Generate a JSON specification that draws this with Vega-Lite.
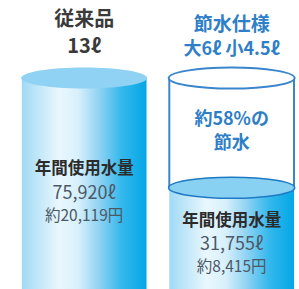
{
  "$schema": "https://vega.github.io/schema/vega-lite/v6.json",
  "width": 299,
  "height": 289,
  "autosize": {"type": "fit", "contains": "padding"},
  "padding": 0,
  "background": "white",
  "config": {"view": {"stroke": null}},
  "data": {"values": [
    {"cat": "従来品", "title": "従来品", "spec": "13ℓ", "level": 100, "water": 100, "usage": "年間使用水量", "liters": "75,920ℓ", "cost": "約20,119円", "saving": "", "saving2": ""},
    {"cat": "節水仕様", "title": "節水仕様", "spec": "大6ℓ 小4.5ℓ", "level": 100, "water": 48, "usage": "年間使用水量", "liters": "31,755ℓ", "cost": "約8,415円", "saving": "約58%の", "saving2": "節水"}
  ]},
  "encoding": {
    "x": {"field": "cat", "type": "nominal", "axis": null, "sort": null,
      "scale": {"type": "band", "domain": ["従来品", "節水仕様"], "paddingInner": 0.1544, "paddingOuter": 0.0806, "align": 0.9167}}
  },
  "layer": [
    {
      "mark": {"type": "bar", "color": {"gradient": "linear", "x1": 0, "x2": 1, "y1": 0, "y2": 0, "stops": [
        {"offset": 0, "color": "#9fd9f5"}, {"offset": 0.08, "color": "#b4e2f7"}, {"offset": 0.3, "color": "#e9f7fd"},
        {"offset": 0.45, "color": "#d8f0fb"}, {"offset": 0.62, "color": "#8fd3f3"}, {"offset": 0.8, "color": "#34b8ec"}, {"offset": 1, "color": "#03a7e6"}]}},
      "encoding": {
        "y": {"field": "water", "type": "quantitative", "axis": null, "scale": {"domain": [0, 137], "nice": false, "zero": false}},
        "y2": {"datum": 0}
      }
    },
    {
      "transform": [{"filter": "datum.cat === '節水仕様'"}],
      "mark": {"type": "rule", "stroke": "#3a86cc", "strokeWidth": 2},
      "encoding": {
        "x": {"field": "cat", "type": "nominal", "bandPosition": 0, "axis": null, "sort": null,
          "scale": {"type": "band", "domain": ["従来品", "節水仕様"], "paddingInner": 0.1544, "paddingOuter": 0.0806, "align": 0.9167}},
        "y": {"field": "level", "type": "quantitative", "axis": null, "scale": {"domain": [0, 137], "nice": false, "zero": false}},
        "y2": {"field": "water"}
      }
    },
    {
      "transform": [{"filter": "datum.cat === '節水仕様'"}],
      "mark": {"type": "rule", "stroke": "#3a86cc", "strokeWidth": 2},
      "encoding": {
        "x": {"field": "cat", "type": "nominal", "bandPosition": 1, "axis": null, "sort": null,
          "scale": {"type": "band", "domain": ["従来品", "節水仕様"], "paddingInner": 0.1544, "paddingOuter": 0.0806, "align": 0.9167}},
        "y": {"field": "level", "type": "quantitative", "axis": null, "scale": {"domain": [0, 137], "nice": false, "zero": false}},
        "y2": {"field": "water"}
      }
    },
    {
      "transform": [{"filter": "datum.cat === '従来品'"}],
      "mark": {"type": "point", "shape": "M-1,0C-1,-0.0922,-0.5523,-0.167,0,-0.167C0.5523,-0.167,1,-0.0922,1,0C1,0.0922,0.5523,0.167,0,0.167C-0.5523,0.167,-1,0.0922,-1,0Z", "size": 15876, "filled": true, "fill": "#8fd2f3", "strokeWidth": 0, "opacity": 1},
      "encoding": {
        "y": {"field": "level", "type": "quantitative", "axis": null, "scale": {"domain": [0, 137], "nice": false, "zero": false}}
      }
    },
    {
      "transform": [{"filter": "datum.cat === '節水仕様'"}],
      "mark": {"type": "point", "shape": "M-1,0C-1,-0.0922,-0.5523,-0.167,0,-0.167C0.5523,-0.167,1,-0.0922,1,0C1,0.0922,0.5523,0.167,0,0.167C-0.5523,0.167,-1,0.0922,-1,0Z", "size": 15876, "fill": "#ffffff", "stroke": "#3a86cc", "strokeWidth": 2, "opacity": 1, "fillOpacity": 1, "strokeOpacity": 1},
      "encoding": {
        "y": {"field": "level", "type": "quantitative", "axis": null, "scale": {"domain": [0, 137], "nice": false, "zero": false}}
      }
    },
    {
      "transform": [{"filter": "datum.cat === '節水仕様'"}],
      "mark": {"type": "point", "shape": "M-1,0C-1,-0.0922,-0.5523,-0.167,0,-0.167C0.5523,-0.167,1,-0.0922,1,0C1,0.0922,0.5523,0.167,0,0.167C-0.5523,0.167,-1,0.0922,-1,0Z", "size": 15876, "fill": "#88d1f2", "stroke": "#1f7ac4", "strokeWidth": 1.6, "opacity": 1, "fillOpacity": 1, "strokeOpacity": 1},
      "encoding": {
        "y": {"field": "water", "type": "quantitative", "axis": null, "scale": {"domain": [0, 137], "nice": false, "zero": false}}
      }
    },
    {
      "transform": [{"filter": "datum.cat === '従来品'"}],
      "mark": {"type": "text", "font": "Noto Sans CJK JP", "fontWeight": "bold", "fontSize": 20, "fill": "#3a3a3a", "baseline": "middle", "align": "center"},
      "encoding": {"text": {"field": "title"}, "y": {"datum": 127.5, "type": "quantitative", "axis": null, "scale": {"domain": [0, 137], "nice": false, "zero": false}}}
    },
    {
      "transform": [{"filter": "datum.cat === '従来品'"}],
      "mark": {"type": "text", "font": "Noto Sans CJK JP", "fontWeight": "bold", "fontSize": 20, "fill": "#3a3a3a", "baseline": "middle", "align": "center"},
      "encoding": {"text": {"field": "spec"}, "y": {"datum": 114.6, "type": "quantitative", "axis": null, "scale": {"domain": [0, 137], "nice": false, "zero": false}}}
    },
    {
      "transform": [{"filter": "datum.cat === '節水仕様'"}],
      "mark": {"type": "text", "font": "Noto Sans CJK JP", "fontWeight": "bold", "fontSize": 19, "fill": "#2f7fc8", "baseline": "middle", "align": "center"},
      "encoding": {"text": {"field": "title"}, "y": {"datum": 125.1, "type": "quantitative", "axis": null, "scale": {"domain": [0, 137], "nice": false, "zero": false}}}
    },
    {
      "transform": [{"filter": "datum.cat === '節水仕様'"}],
      "mark": {"type": "text", "font": "Noto Sans CJK JP", "fontWeight": "bold", "fontSize": 18, "fill": "#2f7fc8", "baseline": "middle", "align": "center"},
      "encoding": {"text": {"field": "spec"}, "y": {"datum": 113.1, "type": "quantitative", "axis": null, "scale": {"domain": [0, 137], "nice": false, "zero": false}}}
    },
    {
      "transform": [{"filter": "datum.cat === '節水仕様'"}],
      "mark": {"type": "text", "font": "Noto Sans CJK JP", "fontWeight": "bold", "fontSize": 18, "fill": "#2f7fc8", "baseline": "middle", "align": "center"},
      "encoding": {"text": {"field": "saving"}, "y": {"datum": 79.88, "type": "quantitative", "axis": null, "scale": {"domain": [0, 137], "nice": false, "zero": false}}}
    },
    {
      "transform": [{"filter": "datum.cat === '節水仕様'"}],
      "mark": {"type": "text", "font": "Noto Sans CJK JP", "fontWeight": "bold", "fontSize": 18, "fill": "#2f7fc8", "baseline": "middle", "align": "center"},
      "encoding": {"text": {"field": "saving2"}, "y": {"datum": 68.74, "type": "quantitative", "axis": null, "scale": {"domain": [0, 137], "nice": false, "zero": false}}}
    },
    {
      "transform": [{"filter": "datum.cat === '従来品'"}],
      "mark": {"type": "text", "font": "Noto Sans CJK JP", "fontWeight": "bold", "fontSize": 16.5, "fill": "#2b2b2b", "baseline": "middle", "align": "center"},
      "encoding": {"text": {"field": "usage"}, "y": {"datum": 56.65, "type": "quantitative", "axis": null, "scale": {"domain": [0, 137], "nice": false, "zero": false}}}
    },
    {
      "transform": [{"filter": "datum.cat === '従来品'"}],
      "mark": {"type": "text", "font": "Noto Sans CJK JP", "fontSize": 18, "fill": "#4b5866", "baseline": "middle", "align": "center"},
      "encoding": {"text": {"field": "liters"}, "y": {"datum": 45.03, "type": "quantitative", "axis": null, "scale": {"domain": [0, 137], "nice": false, "zero": false}}}
    },
    {
      "transform": [{"filter": "datum.cat === '従来品'"}],
      "mark": {"type": "text", "font": "Noto Sans CJK JP", "fontSize": 15.5, "fill": "#4b5866", "baseline": "middle", "align": "center"},
      "encoding": {"text": {"field": "cost"}, "y": {"datum": 34.61, "type": "quantitative", "axis": null, "scale": {"domain": [0, 137], "nice": false, "zero": false}}}
    },
    {
      "transform": [{"filter": "datum.cat === '節水仕様'"}],
      "mark": {"type": "text", "font": "Noto Sans CJK JP", "fontWeight": "bold", "fontSize": 16.5, "fill": "#2b2b2b", "baseline": "middle", "align": "center"},
      "encoding": {"text": {"field": "usage"}, "y": {"datum": 32.24, "type": "quantitative", "axis": null, "scale": {"domain": [0, 137], "nice": false, "zero": false}}}
    },
    {
      "transform": [{"filter": "datum.cat === '節水仕様'"}],
      "mark": {"type": "text", "font": "Noto Sans CJK JP", "fontSize": 18, "fill": "#4b5866", "baseline": "middle", "align": "center"},
      "encoding": {"text": {"field": "liters"}, "y": {"datum": 20.86, "type": "quantitative", "axis": null, "scale": {"domain": [0, 137], "nice": false, "zero": false}}}
    },
    {
      "transform": [{"filter": "datum.cat === '節水仕様'"}],
      "mark": {"type": "text", "font": "Noto Sans CJK JP", "fontSize": 15.5, "fill": "#4b5866", "baseline": "middle", "align": "center"},
      "encoding": {"text": {"field": "cost"}, "y": {"datum": 10.43, "type": "quantitative", "axis": null, "scale": {"domain": [0, 137], "nice": false, "zero": false}}}
    }
  ]
}
